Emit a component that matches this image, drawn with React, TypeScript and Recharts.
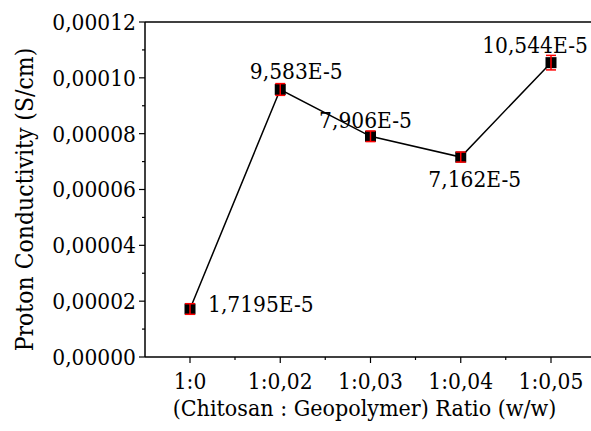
import React from 'react';
import { LineChart, Line, XAxis, YAxis, ErrorBar, ReferenceLine, LabelList } from 'recharts';

const FONT = "'DejaVu Serif Condensed', 'DejaVu Serif', serif";
const FS = 22.5;

const categories = ['1:0', '1:0,02', '1:0,03', '1:0,04', '1:0,05'];
const conductivity = [1.7195e-5, 9.583e-5, 7.906e-5, 7.162e-5, 10.544e-5];
const errors = [1.9e-6, 2.1e-6, 1.9e-6, 1.8e-6, 2.6e-6];
const pointLabels = ['1,7195E-5', '9,583E-5', '7,906E-5', '7,162E-5', '10,544E-5'];
const yTicks = [0, 0.00001, 0.00002, 0.00003, 0.00004, 0.00005, 0.00006, 0.00007, 0.00008, 0.00009, 0.0001, 0.00011, 0.00012];
const xTitle = '(Chitosan : Geopolymer) Ratio (w/w)';
const yTitle = 'Proton Conductivity (S/cm)';

const data = categories.map((c, i) => ({ cat: c, value: conductivity[i], err: errors[i], label: pointLabels[i] }));

const labelPlacement: { dx: number; dy: number; anchor: 'start' | 'middle' }[] = [
  { dx: 18, dy: 3, anchor: 'start' },
  { dx: 16, dy: -10, anchor: 'middle' },
  { dx: -5, dy: -8, anchor: 'middle' },
  { dx: 14, dy: 30, anchor: 'middle' },
  { dx: -16, dy: -10, anchor: 'middle' },
];

const txt = { fontFamily: FONT, fontStretch: 'condensed' as const };

const fmtY = (v: number) => v.toFixed(5).replace('.', ',');

const YTick = (props: any) => {
  const { x, y, payload } = props;
  const major = Math.round(payload.value / 1e-5) % 2 === 0;
  return (
    <g>
      <line x1={x - (major ? 6 : 3)} x2={x} y1={y} y2={y} stroke="#000" strokeWidth={1.2} />
      {major && (
        <text x={x - 9} y={y} dy="0.35em" textAnchor="end" fontSize={FS} style={txt} fill="#000">
          {fmtY(payload.value)}
        </text>
      )}
    </g>
  );
};

const XTick = (props: any) => {
  const { x, y, payload, index } = props;
  return (
    <g>
      <line x1={x} x2={x} y1={y} y2={y + 6} stroke="#000" strokeWidth={1.2} />
      {index < categories.length - 1 && (
        <line x1={x + 45} x2={x + 45} y1={y} y2={y + 3} stroke="#000" strokeWidth={1.2} />
      )}
      <text x={x} y={y + 32} textAnchor="middle" fontSize={FS} style={txt} fill="#000">
        {payload.value}
      </text>
    </g>
  );
};

const SquareDot = (props: any) => {
  const { cx, cy } = props;
  if (cx == null || cy == null) return null;
  return <rect x={cx - 5.5} y={cy - 5.5} width={11} height={11} fill="#000" />;
};

const PointLabel = (props: any) => {
  const { x, y, index, value } = props;
  const p = labelPlacement[index];
  return (
    <text x={x + p.dx} y={y + p.dy} textAnchor={p.anchor} fontSize={FS} style={txt} fill="#000">
      {value}
    </text>
  );
};

const XTitle = (props: any) => {
  const vb = props.viewBox;
  return (
    <text x={vb.x + vb.width / 2 - 6} y={vb.y + 59} textAnchor="middle" fontSize={23} style={txt} fill="#000">
      {xTitle}
    </text>
  );
};

const YTitle = (props: any) => {
  const vb = props.viewBox;
  const cx = 24;
  const cy = vb.y + vb.height / 2 + 10;
  return (
    <text x={cx} y={cy} dy="0.35em" textAnchor="middle" transform={`rotate(-90, ${cx}, ${cy})`} fontSize={24.5} style={txt} fill="#000">
      {yTitle}
    </text>
  );
};

export default function App() {
  return (
    <div style={{ position: 'absolute', left: 0, top: 0, width: 591, height: 431, overflow: 'hidden', background: '#fff' }}>
      <LineChart width={620} height={431} data={data} margin={{ top: 22, right: 24, bottom: 0, left: 0 }}>
        <XAxis
          dataKey="cat"
          type="category"
          padding={{ left: 45, right: 45 }}
          height={74}
          interval={0}
          tickSize={0}
          tickMargin={0}
          tickLine={false}
          axisLine={{ stroke: '#000', strokeWidth: 1.5 }}
          tick={<XTick />}
          label={<XTitle />}
        />
        <YAxis
          type="number"
          domain={[0, 0.00012]}
          ticks={yTicks}
          interval={0}
          width={145}
          tickSize={0}
          tickMargin={0}
          tickLine={false}
          axisLine={{ stroke: '#000', strokeWidth: 1.5 }}
          tick={<YTick />}
          label={<YTitle />}
        />
        <ReferenceLine y={0.00012} stroke="#000" strokeWidth={1.5} />
        <Line
          type="linear"
          dataKey="value"
          stroke="#000"
          strokeWidth={1.5}
          dot={<SquareDot />}
          activeDot={false}
          isAnimationActive={false}
        >
          <LabelList dataKey="label" content={<PointLabel />} />
        </Line>
        <Line
          type="linear"
          dataKey="value"
          stroke="none"
          dot={false}
          activeDot={false}
          legendType="none"
          isAnimationActive={false}
        >
          <ErrorBar dataKey="err" width={5} stroke="#ff0000" strokeWidth={1.5} direction="y" zIndex={1000} />
        </Line>
      </LineChart>
    </div>
  );
}
